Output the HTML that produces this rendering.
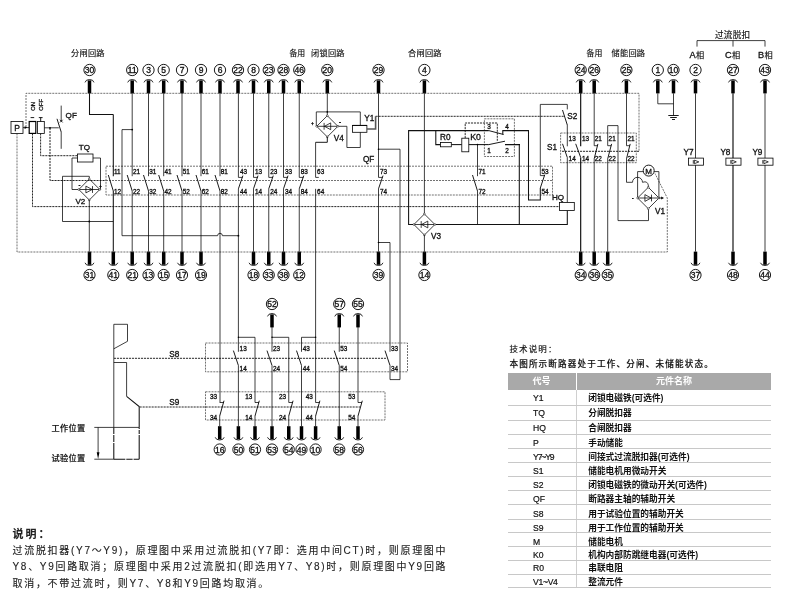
<!DOCTYPE html>
<html lang="zh"><head><meta charset="utf-8"><title>断路器二次原理图</title>
<style>
html,body{margin:0;padding:0;background:#fff;}
body{width:800px;height:608px;position:relative;overflow:hidden;font-family:"Liberation Sans","Noto Sans CJK SC",sans-serif;color:#111;}
svg{position:absolute;left:0;top:0;}
#wrap{position:absolute;left:0;top:0;width:800px;height:608px;will-change:transform;transform:translateZ(0);}
svg text{font-family:"Liberation Sans","Noto Sans CJK SC",sans-serif;fill:#111;stroke:#111;stroke-width:0.32px;}
.w{fill:none;stroke:#000;stroke-width:0.75;}
.k{fill:none;stroke:#000;stroke-width:0.9;}
.kw{fill:none;stroke:#111;stroke-width:1.05;}
.k2{fill:none;stroke:#555;stroke-width:1.6;}
.kk{fill:none;stroke:#000;stroke-width:1.1;}
.d{fill:none;stroke:#444;stroke-width:0.75;stroke-dasharray:2.0 1.0;}
.dk{fill:none;stroke:#000;stroke-width:0.85;stroke-dasharray:2.1 0.9;}
.b{fill:#fff;stroke:#000;stroke-width:0.8;}
.bk{fill:#fff;stroke:#000;stroke-width:1.2;}
.c{fill:#fff;stroke:#000;stroke-width:0.9;}
.a{fill:none;stroke:#000;stroke-width:0.85;}
.lbl{position:absolute;white-space:nowrap;-webkit-text-stroke:0.15px #111;font-size:8.2px;line-height:10px;letter-spacing:0.25px;color:#111;}
.note{position:absolute;left:12.5px;white-space:nowrap;-webkit-text-stroke:0.12px #222;font-size:10px;line-height:12px;letter-spacing:1.7px;color:#222;}
.sep{position:absolute;left:507.8px;width:263.2px;height:0.9px;background:#c8c8c8;}
.c1{position:absolute;left:533px;font-size:8.6px;-webkit-text-stroke:0.2px #111;line-height:12px;height:12px;white-space:nowrap;color:#111;}
.c2{position:absolute;left:588.2px;font-size:8.7px;line-height:12px;height:12px;font-weight:bold;white-space:nowrap;color:#111;}
</style></head><body><div id="wrap">
<svg width="800" height="608" viewBox="0 0 800 608">
<circle class="c" cx="89.5" cy="70" r="5.65"/>
<text class="t" x="89.5" y="73.05" font-size="8.5" text-anchor="middle" textLength="9.5" lengthAdjust="spacingAndGlyphs">30</text>
<path class="a" d="M85,82.4 A4.6 3.6 0 0 1 94,82.4"/>
<rect x="87.75" y="80.4" width="3.5" height="13" fill="#000"/>
<circle class="c" cx="132.2" cy="70" r="5.65"/>
<text class="t" x="132.2" y="73.05" font-size="8.5" text-anchor="middle" textLength="9.5" lengthAdjust="spacingAndGlyphs">11</text>
<path class="a" d="M127.7,82.4 A4.6 3.6 0 0 1 136.7,82.4"/>
<rect x="130.45" y="80.4" width="3.5" height="13" fill="#000"/>
<circle class="c" cx="148.5" cy="70" r="5.65"/>
<text class="t" x="148.5" y="73.05" font-size="8.5" text-anchor="middle">3</text>
<path class="a" d="M144,82.4 A4.6 3.6 0 0 1 153,82.4"/>
<rect x="146.75" y="80.4" width="3.5" height="13" fill="#000"/>
<circle class="c" cx="163.7" cy="70" r="5.65"/>
<text class="t" x="163.7" y="73.05" font-size="8.5" text-anchor="middle">5</text>
<path class="a" d="M159.2,82.4 A4.6 3.6 0 0 1 168.2,82.4"/>
<rect x="161.95" y="80.4" width="3.5" height="13" fill="#000"/>
<circle class="c" cx="182" cy="70" r="5.65"/>
<text class="t" x="182" y="73.05" font-size="8.5" text-anchor="middle">7</text>
<path class="a" d="M177.5,82.4 A4.6 3.6 0 0 1 186.5,82.4"/>
<rect x="180.25" y="80.4" width="3.5" height="13" fill="#000"/>
<circle class="c" cx="201" cy="70" r="5.65"/>
<text class="t" x="201" y="73.05" font-size="8.5" text-anchor="middle">9</text>
<path class="a" d="M196.5,82.4 A4.6 3.6 0 0 1 205.5,82.4"/>
<rect x="199.25" y="80.4" width="3.5" height="13" fill="#000"/>
<circle class="c" cx="220" cy="70" r="5.65"/>
<text class="t" x="220" y="73.05" font-size="8.5" text-anchor="middle">6</text>
<path class="a" d="M215.5,82.4 A4.6 3.6 0 0 1 224.5,82.4"/>
<rect x="218.25" y="80.4" width="3.5" height="13" fill="#000"/>
<circle class="c" cx="238" cy="70" r="5.65"/>
<text class="t" x="238" y="73.05" font-size="8.5" text-anchor="middle" textLength="9.5" lengthAdjust="spacingAndGlyphs">22</text>
<path class="a" d="M233.5,82.4 A4.6 3.6 0 0 1 242.5,82.4"/>
<rect x="236.25" y="80.4" width="3.5" height="13" fill="#000"/>
<circle class="c" cx="253.5" cy="70" r="5.65"/>
<text class="t" x="253.5" y="73.05" font-size="8.5" text-anchor="middle">8</text>
<path class="a" d="M249,82.4 A4.6 3.6 0 0 1 258,82.4"/>
<rect x="251.75" y="80.4" width="3.5" height="13" fill="#000"/>
<circle class="c" cx="268.75" cy="70" r="5.65"/>
<text class="t" x="268.75" y="73.05" font-size="8.5" text-anchor="middle" textLength="9.5" lengthAdjust="spacingAndGlyphs">23</text>
<path class="a" d="M264.25,82.4 A4.6 3.6 0 0 1 273.25,82.4"/>
<rect x="267" y="80.4" width="3.5" height="13" fill="#000"/>
<circle class="c" cx="283.5" cy="70" r="5.65"/>
<text class="t" x="283.5" y="73.05" font-size="8.5" text-anchor="middle" textLength="9.5" lengthAdjust="spacingAndGlyphs">28</text>
<path class="a" d="M279,82.4 A4.6 3.6 0 0 1 288,82.4"/>
<rect x="281.75" y="80.4" width="3.5" height="13" fill="#000"/>
<circle class="c" cx="299.25" cy="70" r="5.65"/>
<text class="t" x="299.25" y="73.05" font-size="8.5" text-anchor="middle" textLength="9.5" lengthAdjust="spacingAndGlyphs">46</text>
<path class="a" d="M294.75,82.4 A4.6 3.6 0 0 1 303.75,82.4"/>
<rect x="297.5" y="80.4" width="3.5" height="13" fill="#000"/>
<circle class="c" cx="327.3" cy="70" r="5.65"/>
<text class="t" x="327.3" y="73.05" font-size="8.5" text-anchor="middle" textLength="9.5" lengthAdjust="spacingAndGlyphs">20</text>
<path class="a" d="M322.8,82.4 A4.6 3.6 0 0 1 331.8,82.4"/>
<rect x="325.55" y="80.4" width="3.5" height="13" fill="#000"/>
<circle class="c" cx="378.5" cy="70" r="5.65"/>
<text class="t" x="378.5" y="73.05" font-size="8.5" text-anchor="middle" textLength="9.5" lengthAdjust="spacingAndGlyphs">29</text>
<path class="a" d="M374,82.4 A4.6 3.6 0 0 1 383,82.4"/>
<rect x="376.75" y="80.4" width="3.5" height="13" fill="#000"/>
<circle class="c" cx="424.4" cy="70" r="5.65"/>
<text class="t" x="424.4" y="73.05" font-size="8.5" text-anchor="middle">4</text>
<path class="a" d="M419.9,82.4 A4.6 3.6 0 0 1 428.9,82.4"/>
<rect x="422.65" y="80.4" width="3.5" height="13" fill="#000"/>
<circle class="c" cx="580.7" cy="70" r="5.65"/>
<text class="t" x="580.7" y="73.05" font-size="8.5" text-anchor="middle" textLength="9.5" lengthAdjust="spacingAndGlyphs">24</text>
<path class="a" d="M576.2,82.4 A4.6 3.6 0 0 1 585.2,82.4"/>
<rect x="578.95" y="80.4" width="3.5" height="13" fill="#000"/>
<circle class="c" cx="594.2" cy="70" r="5.65"/>
<text class="t" x="594.2" y="73.05" font-size="8.5" text-anchor="middle" textLength="9.5" lengthAdjust="spacingAndGlyphs">26</text>
<path class="a" d="M589.7,82.4 A4.6 3.6 0 0 1 598.7,82.4"/>
<rect x="592.45" y="80.4" width="3.5" height="13" fill="#000"/>
<circle class="c" cx="626.4" cy="70" r="5.65"/>
<text class="t" x="626.4" y="73.05" font-size="8.5" text-anchor="middle" textLength="9.5" lengthAdjust="spacingAndGlyphs">25</text>
<path class="a" d="M621.9,82.4 A4.6 3.6 0 0 1 630.9,82.4"/>
<rect x="624.65" y="80.4" width="3.5" height="13" fill="#000"/>
<circle class="c" cx="657.8" cy="70" r="5.65"/>
<text class="t" x="657.8" y="73.05" font-size="8.5" text-anchor="middle">1</text>
<path class="a" d="M653.3,82.4 A4.6 3.6 0 0 1 662.3,82.4"/>
<rect x="656.05" y="80.4" width="3.5" height="13" fill="#000"/>
<circle class="c" cx="673.5" cy="70" r="5.65"/>
<text class="t" x="673.5" y="73.05" font-size="8.5" text-anchor="middle" textLength="9.5" lengthAdjust="spacingAndGlyphs">10</text>
<path class="a" d="M669,82.4 A4.6 3.6 0 0 1 678,82.4"/>
<rect x="671.75" y="80.4" width="3.5" height="13" fill="#000"/>
<circle class="c" cx="695.5" cy="70" r="5.65"/>
<text class="t" x="695.5" y="73.05" font-size="8.5" text-anchor="middle">2</text>
<path class="a" d="M691,82.4 A4.6 3.6 0 0 1 700,82.4"/>
<rect x="693.75" y="80.4" width="3.5" height="13" fill="#000"/>
<circle class="c" cx="733" cy="70" r="5.65"/>
<text class="t" x="733" y="73.05" font-size="8.5" text-anchor="middle" textLength="9.5" lengthAdjust="spacingAndGlyphs">27</text>
<path class="a" d="M728.5,82.4 A4.6 3.6 0 0 1 737.5,82.4"/>
<rect x="731.25" y="80.4" width="3.5" height="13" fill="#000"/>
<circle class="c" cx="765" cy="70" r="5.65"/>
<text class="t" x="765" y="73.05" font-size="8.5" text-anchor="middle" textLength="9.5" lengthAdjust="spacingAndGlyphs">43</text>
<path class="a" d="M760.5,82.4 A4.6 3.6 0 0 1 769.5,82.4"/>
<rect x="763.25" y="80.4" width="3.5" height="13" fill="#000"/>
<circle class="c" cx="89.5" cy="275" r="5.6"/>
<text class="t" x="89.5" y="278.05" font-size="8.5" text-anchor="middle" textLength="9.5" lengthAdjust="spacingAndGlyphs">31</text>
<path class="a" d="M85,262.8 A4.6 3.4 0 0 0 94,262.8"/>
<rect x="87.75" y="251.6" width="3.5" height="13.2" fill="#000"/>
<circle class="c" cx="113.3" cy="275" r="5.6"/>
<text class="t" x="113.3" y="278.05" font-size="8.5" text-anchor="middle" textLength="9.5" lengthAdjust="spacingAndGlyphs">41</text>
<path class="a" d="M108.8,262.8 A4.6 3.4 0 0 0 117.8,262.8"/>
<rect x="111.55" y="251.6" width="3.5" height="13.2" fill="#000"/>
<circle class="c" cx="132.2" cy="275" r="5.6"/>
<text class="t" x="132.2" y="278.05" font-size="8.5" text-anchor="middle" textLength="9.5" lengthAdjust="spacingAndGlyphs">21</text>
<path class="a" d="M127.7,262.8 A4.6 3.4 0 0 0 136.7,262.8"/>
<rect x="130.45" y="251.6" width="3.5" height="13.2" fill="#000"/>
<circle class="c" cx="148.5" cy="275" r="5.6"/>
<text class="t" x="148.5" y="278.05" font-size="8.5" text-anchor="middle" textLength="9.5" lengthAdjust="spacingAndGlyphs">13</text>
<path class="a" d="M144,262.8 A4.6 3.4 0 0 0 153,262.8"/>
<rect x="146.75" y="251.6" width="3.5" height="13.2" fill="#000"/>
<circle class="c" cx="163.7" cy="275" r="5.6"/>
<text class="t" x="163.7" y="278.05" font-size="8.5" text-anchor="middle" textLength="9.5" lengthAdjust="spacingAndGlyphs">15</text>
<path class="a" d="M159.2,262.8 A4.6 3.4 0 0 0 168.2,262.8"/>
<rect x="161.95" y="251.6" width="3.5" height="13.2" fill="#000"/>
<circle class="c" cx="182" cy="275" r="5.6"/>
<text class="t" x="182" y="278.05" font-size="8.5" text-anchor="middle" textLength="9.5" lengthAdjust="spacingAndGlyphs">17</text>
<path class="a" d="M177.5,262.8 A4.6 3.4 0 0 0 186.5,262.8"/>
<rect x="180.25" y="251.6" width="3.5" height="13.2" fill="#000"/>
<circle class="c" cx="201" cy="275" r="5.6"/>
<text class="t" x="201" y="278.05" font-size="8.5" text-anchor="middle" textLength="9.5" lengthAdjust="spacingAndGlyphs">19</text>
<path class="a" d="M196.5,262.8 A4.6 3.4 0 0 0 205.5,262.8"/>
<rect x="199.25" y="251.6" width="3.5" height="13.2" fill="#000"/>
<circle class="c" cx="253.5" cy="275" r="5.6"/>
<text class="t" x="253.5" y="278.05" font-size="8.5" text-anchor="middle" textLength="9.5" lengthAdjust="spacingAndGlyphs">18</text>
<path class="a" d="M249,262.8 A4.6 3.4 0 0 0 258,262.8"/>
<rect x="251.75" y="251.6" width="3.5" height="13.2" fill="#000"/>
<circle class="c" cx="268.75" cy="275" r="5.6"/>
<text class="t" x="268.75" y="278.05" font-size="8.5" text-anchor="middle" textLength="9.5" lengthAdjust="spacingAndGlyphs">33</text>
<path class="a" d="M264.25,262.8 A4.6 3.4 0 0 0 273.25,262.8"/>
<rect x="267" y="251.6" width="3.5" height="13.2" fill="#000"/>
<circle class="c" cx="283.5" cy="275" r="5.6"/>
<text class="t" x="283.5" y="278.05" font-size="8.5" text-anchor="middle" textLength="9.5" lengthAdjust="spacingAndGlyphs">38</text>
<path class="a" d="M279,262.8 A4.6 3.4 0 0 0 288,262.8"/>
<rect x="281.75" y="251.6" width="3.5" height="13.2" fill="#000"/>
<circle class="c" cx="299.25" cy="275" r="5.6"/>
<text class="t" x="299.25" y="278.05" font-size="8.5" text-anchor="middle" textLength="9.5" lengthAdjust="spacingAndGlyphs">12</text>
<path class="a" d="M294.75,262.8 A4.6 3.4 0 0 0 303.75,262.8"/>
<rect x="297.5" y="251.6" width="3.5" height="13.2" fill="#000"/>
<circle class="c" cx="378.5" cy="275" r="5.6"/>
<text class="t" x="378.5" y="278.05" font-size="8.5" text-anchor="middle" textLength="9.5" lengthAdjust="spacingAndGlyphs">39</text>
<path class="a" d="M374,262.8 A4.6 3.4 0 0 0 383,262.8"/>
<rect x="376.75" y="251.6" width="3.5" height="13.2" fill="#000"/>
<circle class="c" cx="424.4" cy="275" r="5.6"/>
<text class="t" x="424.4" y="278.05" font-size="8.5" text-anchor="middle" textLength="9.5" lengthAdjust="spacingAndGlyphs">14</text>
<path class="a" d="M419.9,262.8 A4.6 3.4 0 0 0 428.9,262.8"/>
<rect x="422.65" y="251.6" width="3.5" height="13.2" fill="#000"/>
<circle class="c" cx="580.7" cy="275" r="5.6"/>
<text class="t" x="580.7" y="278.05" font-size="8.5" text-anchor="middle" textLength="9.5" lengthAdjust="spacingAndGlyphs">34</text>
<path class="a" d="M576.2,262.8 A4.6 3.4 0 0 0 585.2,262.8"/>
<rect x="578.95" y="251.6" width="3.5" height="13.2" fill="#000"/>
<circle class="c" cx="594.2" cy="275" r="5.6"/>
<text class="t" x="594.2" y="278.05" font-size="8.5" text-anchor="middle" textLength="9.5" lengthAdjust="spacingAndGlyphs">36</text>
<path class="a" d="M589.7,262.8 A4.6 3.4 0 0 0 598.7,262.8"/>
<rect x="592.45" y="251.6" width="3.5" height="13.2" fill="#000"/>
<circle class="c" cx="607.7" cy="275" r="5.6"/>
<text class="t" x="607.7" y="278.05" font-size="8.5" text-anchor="middle" textLength="9.5" lengthAdjust="spacingAndGlyphs">35</text>
<path class="a" d="M603.2,262.8 A4.6 3.4 0 0 0 612.2,262.8"/>
<rect x="605.95" y="251.6" width="3.5" height="13.2" fill="#000"/>
<circle class="c" cx="695.5" cy="275" r="5.6"/>
<text class="t" x="695.5" y="278.05" font-size="8.5" text-anchor="middle" textLength="9.5" lengthAdjust="spacingAndGlyphs">37</text>
<path class="a" d="M691,262.8 A4.6 3.4 0 0 0 700,262.8"/>
<rect x="693.75" y="251.6" width="3.5" height="13.2" fill="#000"/>
<circle class="c" cx="733" cy="275" r="5.6"/>
<text class="t" x="733" y="278.05" font-size="8.5" text-anchor="middle" textLength="9.5" lengthAdjust="spacingAndGlyphs">48</text>
<path class="a" d="M728.5,262.8 A4.6 3.4 0 0 0 737.5,262.8"/>
<rect x="731.25" y="251.6" width="3.5" height="13.2" fill="#000"/>
<circle class="c" cx="765" cy="275" r="5.6"/>
<text class="t" x="765" y="278.05" font-size="8.5" text-anchor="middle" textLength="9.5" lengthAdjust="spacingAndGlyphs">44</text>
<path class="a" d="M760.5,262.8 A4.6 3.4 0 0 0 769.5,262.8"/>
<rect x="763.25" y="251.6" width="3.5" height="13.2" fill="#000"/>
<circle class="c" cx="272" cy="304" r="5.65"/>
<text class="t" x="272" y="307.05" font-size="8.5" text-anchor="middle" textLength="9.5" lengthAdjust="spacingAndGlyphs">52</text>
<path class="a" d="M267.5,316.4 A4.6 3.6 0 0 1 276.5,316.4"/>
<rect x="270.25" y="314.4" width="3.5" height="13" fill="#000"/>
<circle class="c" cx="339.25" cy="304" r="5.65"/>
<text class="t" x="339.25" y="307.05" font-size="8.5" text-anchor="middle" textLength="9.5" lengthAdjust="spacingAndGlyphs">57</text>
<path class="a" d="M334.75,316.4 A4.6 3.6 0 0 1 343.75,316.4"/>
<rect x="337.5" y="314.4" width="3.5" height="13" fill="#000"/>
<circle class="c" cx="358" cy="304" r="5.65"/>
<text class="t" x="358" y="307.05" font-size="8.5" text-anchor="middle" textLength="9.5" lengthAdjust="spacingAndGlyphs">55</text>
<path class="a" d="M353.5,316.4 A4.6 3.6 0 0 1 362.5,316.4"/>
<rect x="356.25" y="314.4" width="3.5" height="13" fill="#000"/>
<circle class="c" cx="219.7" cy="449.5" r="5.6"/>
<text class="t" x="219.7" y="452.55" font-size="8.5" text-anchor="middle" textLength="9.5" lengthAdjust="spacingAndGlyphs">16</text>
<path class="a" d="M215.2,437.3 A4.6 3.4 0 0 0 224.2,437.3"/>
<rect x="217.95" y="426.2" width="3.5" height="13.1" fill="#000"/>
<circle class="c" cx="238.4" cy="449.5" r="5.6"/>
<text class="t" x="238.4" y="452.55" font-size="8.5" text-anchor="middle" textLength="9.5" lengthAdjust="spacingAndGlyphs">50</text>
<path class="a" d="M233.9,437.3 A4.6 3.4 0 0 0 242.9,437.3"/>
<rect x="236.65" y="426.2" width="3.5" height="13.1" fill="#000"/>
<circle class="c" cx="255" cy="449.5" r="5.6"/>
<text class="t" x="255" y="452.55" font-size="8.5" text-anchor="middle" textLength="9.5" lengthAdjust="spacingAndGlyphs">51</text>
<path class="a" d="M250.5,437.3 A4.6 3.4 0 0 0 259.5,437.3"/>
<rect x="253.25" y="426.2" width="3.5" height="13.1" fill="#000"/>
<circle class="c" cx="272" cy="449.5" r="5.6"/>
<text class="t" x="272" y="452.55" font-size="8.5" text-anchor="middle" textLength="9.5" lengthAdjust="spacingAndGlyphs">53</text>
<path class="a" d="M267.5,437.3 A4.6 3.4 0 0 0 276.5,437.3"/>
<rect x="270.25" y="426.2" width="3.5" height="13.1" fill="#000"/>
<circle class="c" cx="288.75" cy="449.5" r="5.6"/>
<text class="t" x="288.75" y="452.55" font-size="8.5" text-anchor="middle" textLength="9.5" lengthAdjust="spacingAndGlyphs">54</text>
<path class="a" d="M284.25,437.3 A4.6 3.4 0 0 0 293.25,437.3"/>
<rect x="287" y="426.2" width="3.5" height="13.1" fill="#000"/>
<circle class="c" cx="301.5" cy="449.5" r="5.6"/>
<text class="t" x="301.5" y="452.55" font-size="8.5" text-anchor="middle" textLength="9.5" lengthAdjust="spacingAndGlyphs">49</text>
<path class="a" d="M297,437.3 A4.6 3.4 0 0 0 306,437.3"/>
<rect x="299.75" y="426.2" width="3.5" height="13.1" fill="#000"/>
<circle class="c" cx="315.6" cy="449.5" r="5.6"/>
<text class="t" x="315.6" y="452.55" font-size="8.5" text-anchor="middle" textLength="9.5" lengthAdjust="spacingAndGlyphs">10</text>
<path class="a" d="M311.1,437.3 A4.6 3.4 0 0 0 320.1,437.3"/>
<rect x="313.85" y="426.2" width="3.5" height="13.1" fill="#000"/>
<circle class="c" cx="339.25" cy="449.5" r="5.6"/>
<text class="t" x="339.25" y="452.55" font-size="8.5" text-anchor="middle" textLength="9.5" lengthAdjust="spacingAndGlyphs">58</text>
<path class="a" d="M334.75,437.3 A4.6 3.4 0 0 0 343.75,437.3"/>
<rect x="337.5" y="426.2" width="3.5" height="13.1" fill="#000"/>
<circle class="c" cx="358" cy="449.5" r="5.6"/>
<text class="t" x="358" y="452.55" font-size="8.5" text-anchor="middle" textLength="9.5" lengthAdjust="spacingAndGlyphs">56</text>
<path class="a" d="M353.5,437.3 A4.6 3.4 0 0 0 362.5,437.3"/>
<rect x="356.25" y="426.2" width="3.5" height="13.1" fill="#000"/>
<path class="d" d="M26,127 L26,93.3 L639,93.3 L639,151.3"/>
<path class="dk" d="M639,151.3 L562,151.3"/>
<path class="d" d="M17,133.4 L17,252 L667.3,252 L667.3,198 L655,173.5"/>
<path class="dk" d="M32.5,133.4 L32.5,206.6 L559.5,206.6"/>
<path class="dk" d="M40.6,133.4 L40.6,155.7 L77.5,155.7"/>
<path class="dk" d="M50,128 L50,180.5 L106,180.5"/>
<path class="d" d="M106,180.5 L552.5,180.5"/>
<path class="d" d="M106,166.2 L552.5,166.2 L552.5,195 L106,195 L106,166.2"/>
<path class="dk" d="M375.6,116.3 L565,116.3"/>
<path class="dk" d="M465.2,138.2 L465.2,123 L497.3,123 L497.3,141.5"/>
<path class="d" d="M484.4,118.8 L514.4,118.8 L514.4,156.5 L484.4,156.5 L484.4,118.8"/>
<path class="d" d="M560.6,133 L636.3,133 L636.3,162.7 L560.6,162.7 L560.6,133"/>
<rect class="b" x="11" y="121.5" width="12" height="11.9"/>
<text class="t" x="17" y="131" font-size="8.5" text-anchor="middle">P</text>
<path class="w" d="M23,127.6 L29,127.6"/>
<path d="M24.6,126.2 L27.2,127.6 L24.6,129 Z" fill="#000"/>
<rect class="bk" x="29.2" y="121.5" width="6.6" height="11.9"/>
<rect class="b" x="37.4" y="121.5" width="6.9" height="11.9"/>
<path class="k" d="M30.6,117.6 L34.2,117.6"/>
<path class="k" d="M38.8,117.6 L42.6,117.6"/>
<path class="k" d="M40.7,117.6 L40.7,121.5"/>
<text class="t" font-size="6" transform="translate(34.6,110.8) rotate(-90)" fill-opacity="0.8">ON</text>
<text class="t" font-size="6" transform="translate(42.8,110.8) rotate(-90)" fill-opacity="0.8">OFF</text>
<path class="w" d="M44.3,127.8 L58.8,127.8"/>
<circle cx="50" cy="127.8" r="0.9" fill="#000"/>
<path class="w" d="M61.2,105.6 L61.2,121"/>
<path class="k" d="M57,118.8 L61.2,132"/>
<path class="w" d="M61.2,132 L61.2,148.8"/>
<path class="k" d="M60,119.8 L62.6,122.4"/>
<path class="k" d="M62.6,119.8 L60,122.4"/>
<text class="t" x="65.6" y="118" font-size="8.1" text-anchor="start">QF</text>
<text class="t" x="78.8" y="150" font-size="8.1" text-anchor="start">TQ</text>
<rect class="b" x="77.5" y="154" width="15.5" height="8"/>
<path class="w" d="M77.5,158 L72,158 L72,189.5 L78.8,189.5"/>
<path class="w" d="M93,158 L100.5,158 L100.5,189.5 L99.8,189.5"/>
<path class="w" d="M89.3,179 L89.3,176.3 L62.5,176.3 L62.5,221.5 L113.3,221.5"/>
<path class="w" d="M78.8,189.5 L89.3,179 L99.8,189.5 L89.3,200 L78.8,189.5"/>
<path class="w" d="M78.8,189.5 L99.8,189.5"/>
<path class="w" fill="#fff" d="M85.9,186.1 L92.1,189.5 L85.9,192.9 Z"/>
<path class="w" d="M92.5,186.1 L92.5,192.9"/>
<circle cx="78.8" cy="189.5" r="0.9" fill="#fff" stroke="#000" stroke-width="0.5"/>
<circle cx="89.3" cy="179" r="0.9" fill="#fff" stroke="#000" stroke-width="0.5"/>
<circle cx="99.8" cy="189.5" r="0.9" fill="#fff" stroke="#000" stroke-width="0.5"/>
<circle cx="89.3" cy="200" r="0.9" fill="#fff" stroke="#000" stroke-width="0.5"/>
<path class="w" d="M89.3,200 L89.3,251.6"/>
<circle cx="89.3" cy="221.5" r="0.9" fill="#000"/>
<text class="t" x="75.5" y="203.5" font-size="8" text-anchor="start">V2</text>
<text class="t" x="78.5" y="186.5" font-size="6" text-anchor="start">-</text>
<text class="t" x="99" y="187.5" font-size="5" text-anchor="start">+</text>
<path class="kw" d="M89.5,93.3 L89.5,114.4 L113.3,114.4"/>
<path class="kw" d="M113.3,114.4 L113.3,176.2"/>
<path class="k" d="M108.3,175 L113.3,191"/>
<path class="kw" d="M113.3,191 L113.3,251.6"/>
<text class="t" x="114" y="173.7" font-size="6.4" text-anchor="start">11</text>
<text class="t" x="114" y="193.8" font-size="6.4" text-anchor="start">12</text>
<path class="w" d="M132.2,93.3 L132.2,176.2"/>
<path class="k" d="M127.2,175 L132.2,191"/>
<path class="w" d="M132.2,191 L132.2,251.6"/>
<text class="t" x="132.9" y="173.7" font-size="6.4" text-anchor="start">21</text>
<text class="t" x="132.9" y="193.8" font-size="6.4" text-anchor="start">22</text>
<circle cx="132.2" cy="129.6" r="0.9" fill="#000"/>
<path class="w" d="M132.2,129.6 L122,129.6 L122,235.7 L217.6,235.7 A2.4 2.4 0 0 1 222.4,235.7 L238.4,235.7"/>
<circle cx="238.4" cy="235.7" r="0.9" fill="#000"/>
<path class="w" d="M148.5,93.3 L148.5,176.2"/>
<path class="k" d="M143.5,175 L148.5,191"/>
<path class="w" d="M148.5,191 L148.5,251.6"/>
<text class="t" x="149.2" y="173.7" font-size="6.4" text-anchor="start">31</text>
<text class="t" x="149.2" y="193.8" font-size="6.4" text-anchor="start">32</text>
<path class="w" d="M163.7,93.3 L163.7,176.2"/>
<path class="k" d="M158.7,175 L163.7,191"/>
<path class="w" d="M163.7,191 L163.7,251.6"/>
<text class="t" x="164.4" y="173.7" font-size="6.4" text-anchor="start">41</text>
<text class="t" x="164.4" y="193.8" font-size="6.4" text-anchor="start">42</text>
<path class="w" d="M182,93.3 L182,176.2"/>
<path class="k" d="M177,175 L182,191"/>
<path class="w" d="M182,191 L182,251.6"/>
<text class="t" x="182.7" y="173.7" font-size="6.4" text-anchor="start">51</text>
<text class="t" x="182.7" y="193.8" font-size="6.4" text-anchor="start">52</text>
<path class="w" d="M201,93.3 L201,176.2"/>
<path class="k" d="M196,175 L201,191"/>
<path class="w" d="M201,191 L201,251.6"/>
<text class="t" x="201.7" y="173.7" font-size="6.4" text-anchor="start">61</text>
<text class="t" x="201.7" y="193.8" font-size="6.4" text-anchor="start">62</text>
<path class="w" d="M220,93.3 L220,176.2"/>
<path class="k" d="M215,175 L220,191"/>
<path class="w" d="M220,191 L220,402.5"/>
<text class="t" x="220.7" y="173.7" font-size="6.4" text-anchor="start">81</text>
<text class="t" x="220.7" y="193.8" font-size="6.4" text-anchor="start">82</text>
<path class="w" d="M238.4,93.3 L238.4,177.4 L242.6,177.4"/>
<path class="k" d="M242.9,175.6 L238.4,188.8"/>
<path class="w" d="M238.4,188.8 L238.4,351.8"/>
<text class="t" x="239.9" y="173.7" font-size="6.4" text-anchor="start">43</text>
<text class="t" x="239.9" y="193.8" font-size="6.4" text-anchor="start">44</text>
<path class="w" d="M253.5,93.3 L253.5,177.4 L257.7,177.4"/>
<path class="k" d="M258,175.6 L253.5,188.8"/>
<path class="w" d="M253.5,188.8 L253.5,251.6"/>
<text class="t" x="255" y="173.7" font-size="6.4" text-anchor="start">13</text>
<text class="t" x="255" y="193.8" font-size="6.4" text-anchor="start">14</text>
<path class="w" d="M268.75,93.3 L268.75,177.4 L272.95,177.4"/>
<path class="k" d="M273.25,175.6 L268.75,188.8"/>
<path class="w" d="M268.75,188.8 L268.75,251.6"/>
<text class="t" x="270.25" y="173.7" font-size="6.4" text-anchor="start">23</text>
<text class="t" x="270.25" y="193.8" font-size="6.4" text-anchor="start">24</text>
<path class="w" d="M283.5,93.3 L283.5,177.4 L287.7,177.4"/>
<path class="k" d="M288,175.6 L283.5,188.8"/>
<path class="w" d="M283.5,188.8 L283.5,251.6"/>
<text class="t" x="285" y="173.7" font-size="6.4" text-anchor="start">33</text>
<text class="t" x="285" y="193.8" font-size="6.4" text-anchor="start">34</text>
<path class="w" d="M299.25,93.3 L299.25,177.4 L303.45,177.4"/>
<path class="k" d="M303.75,175.6 L299.25,188.8"/>
<path class="w" d="M299.25,188.8 L299.25,251.6"/>
<text class="t" x="300.75" y="173.7" font-size="6.4" text-anchor="start">83</text>
<text class="t" x="300.75" y="193.8" font-size="6.4" text-anchor="start">84</text>
<path class="w" d="M327.3,93.3 L327.3,115.6"/>
<path class="w" d="M316.3,126.3 L316.3,111.9 L360.3,111.9 L360.3,147.5 L346.9,147.5 L346.9,126.3 L338,126.3"/>
<circle cx="327.3" cy="111.9" r="0.8" fill="#000"/>
<path class="w" d="M316.7,126.3 L327.3,115.7 L337.9,126.3 L327.3,136.9 L316.7,126.3"/>
<path class="w" d="M316.7,126.3 L337.9,126.3"/>
<path class="w" fill="#fff" d="M330.7,122.9 L324.5,126.3 L330.7,129.7 Z"/>
<path class="w" d="M324.1,122.9 L324.1,129.7"/>
<circle cx="316.7" cy="126.3" r="0.9" fill="#fff" stroke="#000" stroke-width="0.5"/>
<circle cx="327.3" cy="115.7" r="0.9" fill="#fff" stroke="#000" stroke-width="0.5"/>
<circle cx="337.9" cy="126.3" r="0.9" fill="#fff" stroke="#000" stroke-width="0.5"/>
<circle cx="327.3" cy="136.9" r="0.9" fill="#fff" stroke="#000" stroke-width="0.5"/>
<rect class="b" x="352.5" y="125.4" width="14.4" height="6.9"/>
<path class="k" d="M352.5,125.4 L366.9,125.4"/>
<path class="k2" d="M366.9,129 L375.6,129 L375.6,116.3"/>
<path class="k" d="M327.3,136.9 L327.3,142.3 L315.6,142.3"/>
<path class="w" d="M315.6,142.3 L315.6,177.4 L318.8,177.4"/>
<path class="w" d="M315.6,188.8 L315.6,402.5"/>
<text class="t" x="317.1" y="173.7" font-size="6.4" text-anchor="start">63</text>
<text class="t" x="317.1" y="193.8" font-size="6.4" text-anchor="start">64</text>
<text class="t" x="364.2" y="121.4" font-size="8.2" text-anchor="start">Y1</text>
<text class="t" x="333.8" y="141" font-size="8.2" text-anchor="start">V4</text>
<text class="t" x="363" y="162.4" font-size="8.2" text-anchor="start">QF</text>
<text class="t" x="311" y="124.5" font-size="5" text-anchor="start">+</text>
<text class="t" x="339" y="124" font-size="6" text-anchor="start">-</text>
<path class="w" d="M378.5,93.3 L378.5,177.4 L382.7,177.4"/>
<path class="k" d="M383,175.6 L378.5,188.8"/>
<path class="w" d="M378.5,188.8 L378.5,251.6"/>
<text class="t" x="380" y="173.7" font-size="6.4" text-anchor="start">73</text>
<text class="t" x="380" y="193.8" font-size="6.4" text-anchor="start">74</text>
<circle cx="378.5" cy="149.2" r="0.8" fill="#000"/>
<circle cx="378.5" cy="242.5" r="0.8" fill="#000"/>
<path class="w" d="M378.5,149.2 L400,149.2 L400,379.6 L390,379.6 L390,365.5"/>
<path class="w" d="M378.5,242.5 L390,242.5 L390,351.8"/>
<path class="w" d="M424.4,93.3 L424.4,214"/>
<path class="kw" d="M413.9,224.5 L408.6,224.5 L408.6,130.6 L488.8,130.6"/>
<path class="kw" d="M435.8,130.6 L435.8,144.6 L440.5,144.6"/>
<rect class="b" x="440.5" y="142.5" width="10.8" height="4.3"/>
<path class="kw" d="M451.3,144.6 L461.8,144.6"/>
<rect class="b" x="461.8" y="138.2" width="7" height="13.6"/>
<path class="kw" d="M468.8,144.6 L488.8,144.6"/>
<circle cx="477.5" cy="144.6" r="0.8" fill="#000"/>
<path class="w" d="M477.5,144.6 L477.5,176.2"/>
<path class="k" d="M472.5,175 L477.5,191"/>
<path class="w" d="M477.5,191 L477.5,224.5"/>
<text class="t" x="478.4" y="173.7" font-size="6.4" text-anchor="start">71</text>
<text class="t" x="478.4" y="193.8" font-size="6.4" text-anchor="start">72</text>
<path class="k" d="M488.8,130.6 L503.6,134.5"/>
<path class="kw" d="M502.8,134.5 L502.8,130.6 L528.5,130.6 L528.5,200 L540.3,200 L540.3,188"/>
<path class="k" d="M488.8,144.6 L505,141.2"/>
<path class="kw" d="M505,144.6 L519.3,144.6 L519.3,224.5"/>
<circle cx="519.3" cy="144.6" r="0.7" fill="#000"/>
<path class="kw" d="M434.9,224.5 L567.3,224.5 L567.3,210.5"/>
<path class="w" d="M413.9,224.5 L424.4,214 L434.9,224.5 L424.4,235 L413.9,224.5"/>
<path class="w" d="M413.9,224.5 L434.9,224.5"/>
<path class="w" fill="#fff" d="M427.8,221.1 L421.6,224.5 L427.8,227.9 Z"/>
<path class="w" d="M421.2,221.1 L421.2,227.9"/>
<circle cx="413.9" cy="224.5" r="0.9" fill="#fff" stroke="#000" stroke-width="0.5"/>
<circle cx="424.4" cy="214" r="0.9" fill="#fff" stroke="#000" stroke-width="0.5"/>
<circle cx="434.9" cy="224.5" r="0.9" fill="#fff" stroke="#000" stroke-width="0.5"/>
<circle cx="424.4" cy="235" r="0.9" fill="#fff" stroke="#000" stroke-width="0.5"/>
<path class="w" d="M424.4,235 L424.4,251.6"/>
<text class="t" x="431" y="239" font-size="8.2" text-anchor="start">V3</text>
<text class="t" x="440" y="140" font-size="8.2" text-anchor="start">R0</text>
<text class="t" x="470.2" y="140.2" font-size="8.8" text-anchor="start">K0</text>
<text class="t" x="487.2" y="129.2" font-size="6.4" text-anchor="start">3</text>
<text class="t" x="505.2" y="129.2" font-size="6.4" text-anchor="start">4</text>
<text class="t" x="487.2" y="152.8" font-size="6.4" text-anchor="start">1</text>
<text class="t" x="505.2" y="152.8" font-size="6.4" text-anchor="start">2</text>
<path class="w" d="M567.3,109.4 L567.3,104.4 L540.3,104.4 L540.3,175.6 L544.6,175.6"/>
<path class="k" d="M544.8,174.6 L540.3,188"/>
<text class="t" x="541.5" y="173.7" font-size="6.4" text-anchor="start">53</text>
<text class="t" x="541.5" y="193.8" font-size="6.4" text-anchor="start">54</text>
<path class="k" d="M562.5,110 L567.3,125"/>
<path class="w" d="M567.3,125 L567.3,146.3"/>
<text class="t" x="567.3" y="118.6" font-size="8.2" text-anchor="start">S2</text>
<text class="t" x="547" y="150" font-size="8.2" text-anchor="start">S1</text>
<path class="k" d="M562.5,143.8 L567.3,157.5"/>
<path class="w" d="M567.3,157.5 L567.3,202.5"/>
<text class="t" x="568.6" y="141.2" font-size="6.4" text-anchor="start">13</text>
<text class="t" x="568.6" y="161.2" font-size="6.4" text-anchor="start">14</text>
<rect class="b" x="559.5" y="202.5" width="14.8" height="8"/>
<text class="t" x="552" y="200" font-size="8.1" text-anchor="start">HQ</text>
<path class="kk" d="M580.7,93.3 L580.7,146.3"/>
<path class="k" d="M575.7,143.8 L580.7,157.5"/>
<path class="kk" d="M580.7,157.5 L580.7,251.6"/>
<text class="t" x="582" y="141.2" font-size="6.4" text-anchor="start">13</text>
<text class="t" x="582" y="161.2" font-size="6.4" text-anchor="start">14</text>
<path class="w" d="M594.2,93.3 L594.2,145.7 L597.6,145.7"/>
<path class="k" d="M597.9,143.9 L594.2,158.8"/>
<path class="w" d="M594.2,158.8 L594.2,251.6"/>
<text class="t" x="594.8" y="141.2" font-size="6.4" text-anchor="start">21</text>
<text class="t" x="594.8" y="161.2" font-size="6.4" text-anchor="start">22</text>
<path class="w" d="M607.7,145.7 L607.7,125.6 L618,125.6 L618,220.6 L648.5,220.6 L648.5,208.8"/>
<path class="w" d="M607.7,145.7 L611.3,145.7"/>
<path class="k" d="M611.6,143.9 L607.7,158.8"/>
<path class="w" d="M607.7,158.8 L607.7,251.6"/>
<text class="t" x="608.6" y="141.2" font-size="6.4" text-anchor="start">21</text>
<text class="t" x="608.6" y="161.2" font-size="6.4" text-anchor="start">22</text>
<path class="w" d="M626.5,93.3 L626.5,145.7 L629.9,145.7"/>
<path class="k" d="M630.2,143.9 L626.5,158.8"/>
<path class="w" d="M626.5,158.8 L626.5,182.3"/>
<text class="t" x="627.4" y="141.2" font-size="6.4" text-anchor="start">21</text>
<text class="t" x="627.4" y="161.2" font-size="6.4" text-anchor="start">22</text>
<path class="w" d="M626.5,182.3 L632.5,182.3 A5 5 0 0 1 642.5,182.3 L645,181.8 Q648.5,182 648.5,187.5"/>
<circle class="c" cx="648.7" cy="170.6" r="5.5" fill="#fff"/>
<text class="t" x="648.7" y="173.6" font-size="8" text-anchor="middle">M</text>
<path class="w" d="M643.3,171.6 L637.6,171.6 L637.6,198"/>
<path class="w" d="M654.1,171.6 L658.9,171.6 L658.9,198"/>
<path class="w" d="M637.6,198 L648.3,187.3 L659,198 L648.3,208.7 L637.6,198"/>
<path class="w" d="M637.6,198 L659,198"/>
<path class="w" fill="#fff" d="M644.9,194.6 L651.1,198 L644.9,201.4 Z"/>
<path class="w" d="M651.5,194.6 L651.5,201.4"/>
<circle cx="637.6" cy="198" r="0.9" fill="#fff" stroke="#000" stroke-width="0.5"/>
<circle cx="648.3" cy="187.3" r="0.9" fill="#fff" stroke="#000" stroke-width="0.5"/>
<circle cx="659" cy="198" r="0.9" fill="#fff" stroke="#000" stroke-width="0.5"/>
<circle cx="648.3" cy="208.7" r="0.9" fill="#fff" stroke="#000" stroke-width="0.5"/>
<path class="w" d="M658.9,198 L662,198"/>
<path d="M661.2,196.6 L664,198 L661.2,199.4 Z" fill="#000"/>
<text class="t" x="655" y="213.6" font-size="8.2" text-anchor="start">V1</text>
<text class="t" x="632" y="199.5" font-size="5" text-anchor="start">-</text>
<path class="w" d="M657.8,93.3 L657.8,103.8 L673.5,103.8"/>
<path class="w" d="M673.5,93.3 L673.5,115.5"/>
<path class="k" d="M668.3,115.5 L678.7,115.5"/>
<path class="k" d="M670.2,117.5 L676.8,117.5"/>
<path class="k" d="M672,119.5 L675,119.5"/>
<path class="w" d="M695.5,93.3 L695.5,251.6"/>
<rect class="b" x="688.4" y="158.1" width="15.1" height="7.1"/>
<path class="w" fill="none" d="M693.3,160.1 L693.3,163.7 M694.4,160.1 L698.8,161.9 L694.4,163.7 Z"/>
<text class="t" x="683.6" y="155" font-size="8.2" text-anchor="start">Y7</text>
<path class="kk" d="M733,93.3 L733,251.6"/>
<rect class="b" x="725.9" y="158.1" width="15.1" height="7.1"/>
<path class="w" fill="none" d="M730.8,160.1 L730.8,163.7 M731.9,160.1 L736.3,161.9 L731.9,163.7 Z"/>
<text class="t" x="720.4" y="155" font-size="8.2" text-anchor="start">Y8</text>
<path class="w" d="M765,93.3 L765,251.6"/>
<rect class="b" x="757.9" y="158.1" width="15.1" height="7.1"/>
<path class="w" fill="none" d="M762.8,160.1 L762.8,163.7 M763.9,160.1 L768.3,161.9 L763.9,163.7 Z"/>
<text class="t" x="752.4" y="155" font-size="8.2" text-anchor="start">Y9</text>
<path class="w" d="M697,46.6 L697,40.6 L765,40.6 L765,46.6"/>
<path class="w" d="M733,40.6 L733,46.6"/>
<path class="d" d="M205.5,343 L407.5,343 L407.5,371.8 L205.5,371.8 L205.5,343"/>
<path class="dk" d="M114,358.3 L386,358.3"/>
<path class="d" d="M205.5,391.8 L385,391.8 L385,420 L205.5,420 L205.5,391.8"/>
<path class="dk" d="M139.6,407 L360,407"/>
<path class="k" d="M233.4,350.6 L238.4,365.5"/>
<path class="w" d="M238.4,365.5 L238.4,426.2"/>
<text class="t" x="239.6" y="350.6" font-size="6.4" text-anchor="start">13</text>
<text class="t" x="239.6" y="371" font-size="6.4" text-anchor="start">14</text>
<circle cx="238.4" cy="337.3" r="0.7" fill="#000"/>
<path class="w" d="M238.4,337.3 L255,337.3 L255,402.5"/>
<path class="w" d="M272,327 L272,351.8"/>
<path class="k" d="M267,350.6 L272,365.5"/>
<path class="w" d="M272,365.5 L272,426.2"/>
<text class="t" x="272.9" y="350.6" font-size="6.4" text-anchor="start">23</text>
<text class="t" x="272.9" y="371" font-size="6.4" text-anchor="start">24</text>
<circle cx="272" cy="337.3" r="0.7" fill="#000"/>
<path class="w" d="M272,337.3 L288.75,337.3 L288.75,402.5"/>
<circle cx="315.6" cy="337.3" r="0.8" fill="#000"/>
<path class="w" d="M315.6,337.3 L301.5,337.3 L301.5,351.8"/>
<path class="k" d="M296.5,350.6 L301.5,365.5"/>
<path class="w" d="M301.5,365.5 L301.5,426.2"/>
<text class="t" x="302.7" y="350.6" font-size="6.4" text-anchor="start">43</text>
<text class="t" x="302.7" y="371" font-size="6.4" text-anchor="start">44</text>
<path class="w" d="M339.25,327 L339.25,351.8"/>
<path class="k" d="M334.25,350.6 L339.25,365.5"/>
<path class="w" d="M339.25,365.5 L339.25,426.2"/>
<text class="t" x="340.25" y="350.6" font-size="6.4" text-anchor="start">53</text>
<text class="t" x="340.25" y="371" font-size="6.4" text-anchor="start">54</text>
<path class="w" d="M358,327 L358,402.5"/>
<path class="k" d="M385,350.6 L390,365.5"/>
<text class="t" x="391" y="350.6" font-size="6.4" text-anchor="start">33</text>
<text class="t" x="391" y="371" font-size="6.4" text-anchor="start">34</text>
<path class="w" d="M219.7,402.5 L223.7,402.5"/>
<path class="k" d="M224,400.7 L219.7,416"/>
<path class="w" d="M219.7,416 L219.7,426.2"/>
<text class="t" x="209.9" y="399.2" font-size="6.4" text-anchor="start">33</text>
<text class="t" x="209.9" y="419.6" font-size="6.4" text-anchor="start">34</text>
<path class="w" d="M255,402.5 L259,402.5"/>
<path class="k" d="M259.3,400.7 L255,416"/>
<path class="w" d="M255,416 L255,426.2"/>
<text class="t" x="245.2" y="399.2" font-size="6.4" text-anchor="start">13</text>
<text class="t" x="245.2" y="419.6" font-size="6.4" text-anchor="start">14</text>
<path class="w" d="M288.75,402.5 L292.75,402.5"/>
<path class="k" d="M293.05,400.7 L288.75,416"/>
<path class="w" d="M288.75,416 L288.75,426.2"/>
<text class="t" x="278.95" y="399.2" font-size="6.4" text-anchor="start">23</text>
<text class="t" x="278.95" y="419.6" font-size="6.4" text-anchor="start">24</text>
<path class="w" d="M315.6,402.5 L319.6,402.5"/>
<path class="k" d="M319.9,400.7 L315.6,416"/>
<path class="w" d="M315.6,416 L315.6,426.2"/>
<text class="t" x="305.8" y="399.2" font-size="6.4" text-anchor="start">43</text>
<text class="t" x="305.8" y="419.6" font-size="6.4" text-anchor="start">44</text>
<path class="w" d="M358,402.5 L362,402.5"/>
<path class="k" d="M362.3,400.7 L358,416"/>
<path class="w" d="M358,416 L358,426.2"/>
<text class="t" x="348.2" y="399.2" font-size="6.4" text-anchor="start">53</text>
<text class="t" x="348.2" y="419.6" font-size="6.4" text-anchor="start">54</text>
<path class="w" d="M113.8,324.3 L127.5,324.3 L127.5,341.3 L113.8,348.8"/>
<path class="w" d="M113.8,324.3 L113.8,427.4"/>
<path class="w" d="M113.8,362.5 L126.6,362.5 L126.6,396.3"/>
<path class="kw" d="M126.6,396.3 L139.2,406.6 L139.2,427.4"/>
<path class="w" d="M94.3,427.4 L139.2,427.4"/>
<path class="w" d="M94.3,459.2 L113.8,459.2"/>
<path class="kw" d="M113.8,427.4 L113.8,459.2" stroke-dasharray="6.6 0.9 7.2 0.9 30"/>
<path class="kw" d="M139.2,427.4 L139.2,459.2" stroke-dasharray="1.6 0.9 4.2 0.9 30"/>
<path class="kw" d="M113.8,459.2 L139.2,459.2" stroke-dasharray="11.5 1 6.3 1 30"/>
<path class="w" d="M98.1,427.4 L98.1,453"/>
<path d="M96.7,452.2 L99.5,452.2 L98.1,459 Z" fill="#000"/>
<text class="t" x="169.2" y="357.4" font-size="8.2" text-anchor="start">S8</text>
<text class="t" x="169.2" y="404.6" font-size="8.2" text-anchor="start">S9</text>
</svg>
<div class="lbl" style="left:71px;top:49.4px;">分闸回路</div>
<div class="lbl" style="left:289.4px;top:49.3px;font-size:7.9px;letter-spacing:0;">备用</div>
<div class="lbl" style="left:311px;top:49.3px;">闭锁回路</div>
<div class="lbl" style="left:408px;top:49.3px;">合闸回路</div>
<div class="lbl" style="left:586.5px;top:49.3px;font-size:7.9px;letter-spacing:0;">备用</div>
<div class="lbl" style="left:611.5px;top:49.3px;">储能回路</div>
<div class="lbl" style="left:715px;top:29.8px;font-size:8.6px;">过流脱扣</div>
<div class="lbl" style="left:689.5px;top:49.6px;"><span style="font-size:9.2px;-webkit-text-stroke:0.3px #111;">A</span>相</div>
<div class="lbl" style="left:725px;top:49.6px;"><span style="font-size:9.2px;-webkit-text-stroke:0.3px #111;">C</span>相</div>
<div class="lbl" style="left:758px;top:49.6px;"><span style="font-size:9.2px;-webkit-text-stroke:0.3px #111;">B</span>相</div>
<div class="lbl" style="left:51.6px;top:423.6px;font-size:8.2px;font-weight:500;">工作位置</div>
<div class="lbl" style="left:51.6px;top:454.4px;font-size:8.2px;font-weight:500;">试验位置</div>
<div class="note" style="top:527.5px;font-weight:bold;font-size:11px;letter-spacing:2px;">说明：</div>
<div class="note" style="top:544.6px;">过流脱扣器(Y7～Y9)，原理图中采用过流脱扣(Y7即：选用中间CT)时，则原理图中</div>
<div class="note" style="top:561.3px;">Y8、Y9回路取消；原理图中采用2过流脱扣(即选用Y7、Y8)时，则原理图中Y9回路</div>
<div class="note" style="top:578px;">取消，不带过流时，则Y7、Y8和Y9回路均取消。</div>
<div class="lbl" style="left:509.4px;top:344px;font-size:8.5px;letter-spacing:1.15px;">技术说明：</div>
<div class="lbl" style="left:509.4px;top:359px;font-size:8.6px;letter-spacing:1.15px;font-weight:500;">本图所示断路器处于工作、分闸、未储能状态。</div>
<div style="position:absolute;left:507.5px;top:373.3px;width:68px;height:16.4px;background:#a9a9a9;"></div>
<div style="position:absolute;left:577px;top:373.3px;width:194px;height:16.4px;background:#a9a9a9;"></div>
<div style="position:absolute;left:507.5px;top:373.3px;width:68px;height:16.4px;line-height:17px;text-align:center;color:#fff;font-weight:bold;font-size:9px;">代号</div>
<div style="position:absolute;left:577px;top:373.3px;width:194px;height:16.4px;line-height:17px;text-align:center;color:#fff;font-weight:bold;font-size:9px;">元件名称</div>
<div style="position:absolute;left:575.7px;top:389.7px;width:0.9px;height:197.5px;background:#d0d0d0;"></div>
<div class="sep" style="top:404.65px"></div><div class="c1" style="top:392.00px">Y1</div><div class="c2" style="top:392.00px">闭锁电磁铁(可选件)</div>
<div class="sep" style="top:419.85px"></div><div class="c1" style="top:407.40px">TQ</div><div class="c2" style="top:407.40px">分闸脱扣器</div>
<div class="sep" style="top:434.25px"></div><div class="c1" style="top:422.20px">HQ</div><div class="c2" style="top:422.20px">合闸脱扣器</div>
<div class="sep" style="top:448.45px"></div><div class="c1" style="top:436.60px">P</div><div class="c2" style="top:436.60px">手动储能</div>
<div class="sep" style="top:462.35px"></div><div class="c1" style="top:450.80px"><span style="letter-spacing:-1.1px">Y7~Y9</span></div><div class="c2" style="top:450.80px">间接式过流脱扣器(可选件)</div>
<div class="sep" style="top:476.15px"></div><div class="c1" style="top:465.00px">S1</div><div class="c2" style="top:465.00px">储能电机用微动开关</div>
<div class="sep" style="top:490.05px"></div><div class="c1" style="top:479.20px">S2</div><div class="c2" style="top:479.20px">闭锁电磁铁的微动开关(可选件)</div>
<div class="sep" style="top:504.25px"></div><div class="c1" style="top:493.30px">QF</div><div class="c2" style="top:493.30px">断路器主轴的辅助开关</div>
<div class="sep" style="top:518.65px"></div><div class="c1" style="top:508.00px">S8</div><div class="c2" style="top:508.00px">用于试验位置的辅助开关</div>
<div class="sep" style="top:532.45px"></div><div class="c1" style="top:522.00px">S9</div><div class="c2" style="top:522.00px">用于工作位置的辅助开关</div>
<div class="sep" style="top:546.25px"></div><div class="c1" style="top:535.60px">M</div><div class="c2" style="top:535.60px">储能电机</div>
<div class="sep" style="top:559.85px"></div><div class="c1" style="top:549.00px">K0</div><div class="c2" style="top:549.00px">机构内部防跳继电器(可选件)</div>
<div class="sep" style="top:573.85px"></div><div class="c1" style="top:561.80px">R0</div><div class="c2" style="top:561.80px">串联电阻</div>
<div class="sep" style="top:586.75px"></div><div class="c1" style="top:576.20px"><span style="letter-spacing:-0.3px">V1~V4</span></div><div class="c2" style="top:576.20px">整流元件</div>

</div></body></html>
